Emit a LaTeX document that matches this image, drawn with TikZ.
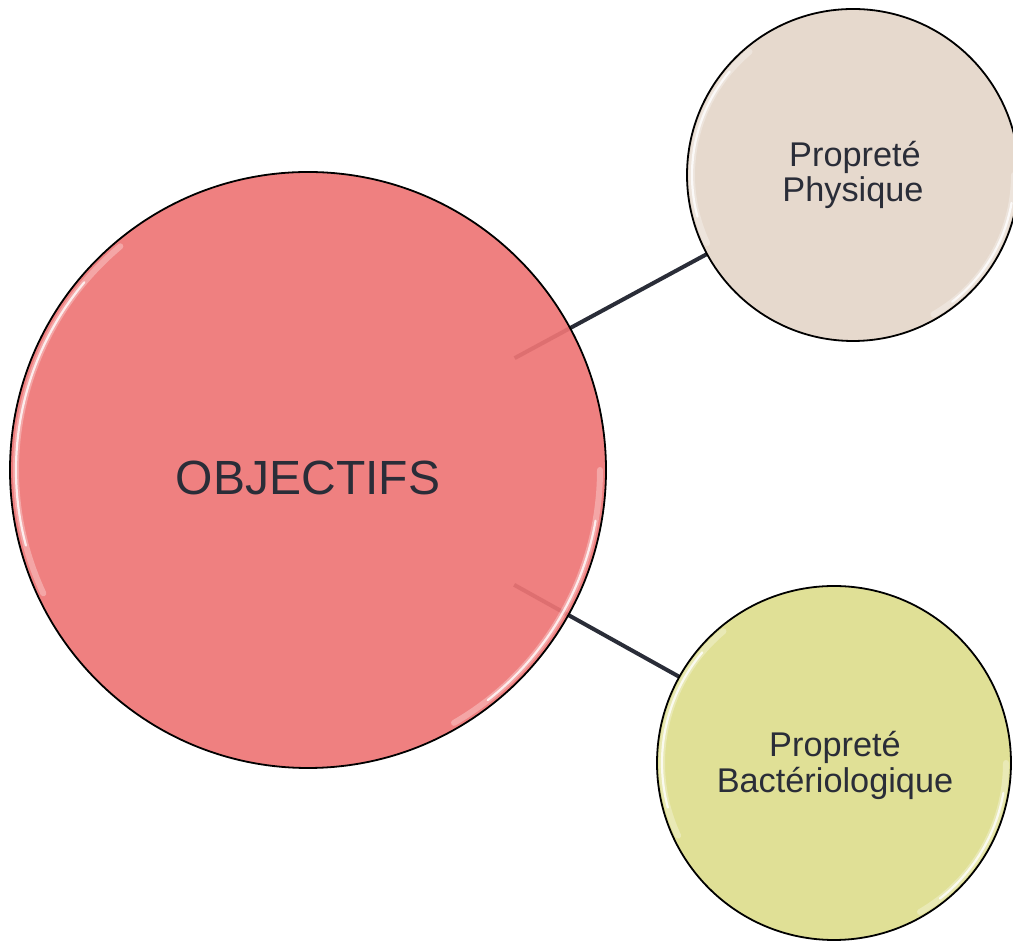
\documentclass[tikz,border=0pt]{standalone}
\usepackage{fontspec}
\setmainfont{Liberation Sans}
\definecolor{coral}{HTML}{EE7575}
\definecolor{beige}{HTML}{E6D9CD}
\definecolor{lime}{HTML}{E0E096}
\definecolor{ink}{HTML}{2A2D38}
\begin{document}
\begin{tikzpicture}[x=1pt,y=1pt,
  bubble/.style={circle, inner sep=0pt, outer sep=0pt, draw=black, line width=1.8pt},
  conn/.style={draw=ink, line width=4pt},
  glossw/.style={draw=white, line width=6pt, opacity=0.3, line cap=round},
  gloss/.style={draw=white, line width=2.2pt, opacity=0.8, line cap=round},
  bigtext/.style={text=ink, font=\fontsize{48}{56}\selectfont, anchor=base, inner sep=0pt},
  smalltext/.style={text=ink, font=\fontsize{34.3}{37}\selectfont, anchor=base, inner sep=0pt}]
\useasboundingbox (0,0) rectangle (1013,942);
% centers
\coordinate (cObj) at (308,472);
\coordinate (cPhys) at (853,767);
\coordinate (cBact) at (834,179);
% connectors (drawn first)
\draw[conn, shorten <=235pt, shorten >=166pt] (cObj) -- (cPhys);
\draw[conn, shorten <=236pt, shorten >=177pt] (cObj) -- (cBact);
% circles
\node[bubble, fill=coral, fill opacity=0.92, minimum size=596pt] (obj) at (cObj) {};
\node[bubble, fill=beige, minimum size=332pt] (phys) at (cPhys) {};
\node[bubble, fill=lime, minimum size=354pt] (bact) at (cBact) {};
% gloss highlights
\foreach \c/\r in {cObj/292, cPhys/161, cBact/172} {
  \draw[glossw] ([shift={(130:\r)}]\c) arc[start angle=130, end angle=205, radius=\r];
  \draw[gloss] ([shift={(140:\r)}]\c) arc[start angle=140, end angle=195, radius=\r];
  \draw[glossw] ([shift={(-60:\r)}]\c) arc[start angle=-60, end angle=0, radius=\r];
  \draw[gloss] ([shift={(-52:\r)}]\c) arc[start angle=-52, end angle=-10, radius=\r];
}
% texts
\node[bigtext] (objtext) at (308,447) {OBJECTIFS};
\node[smalltext] (phys1) at (855,775) {Propreté};
\node[smalltext] (phys2) at (853,740) {Physique};
\node[smalltext] (bact1) at (835,185) {Propreté};
\node[smalltext] (bact2) at (835,149) {Bactériologique};
\end{tikzpicture}
\end{document}
